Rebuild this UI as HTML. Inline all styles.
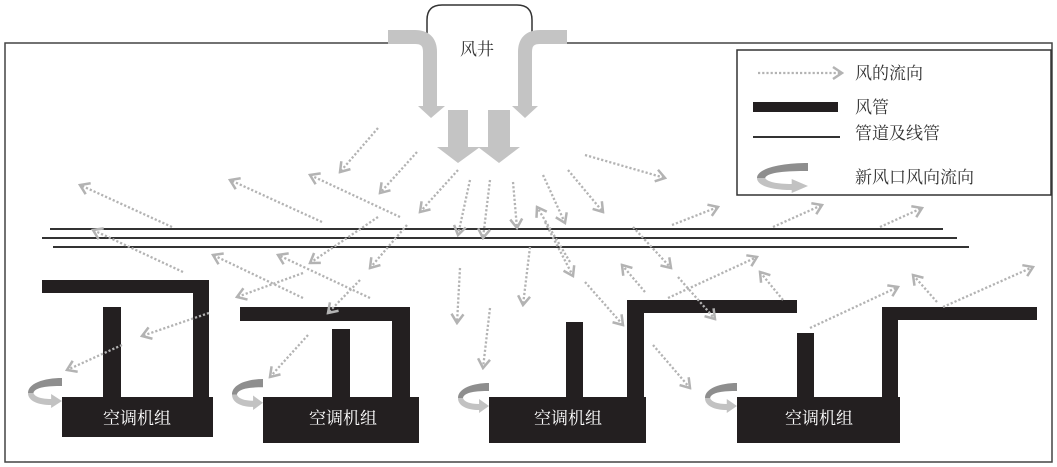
<!DOCTYPE html>
<html><head><meta charset="utf-8"><style>
html,body{margin:0;padding:0;background:#fff;}
svg{display:block;}
text{font-family:"Liberation Serif","Noto Serif CJK SC",serif;}
</style></head><body>
<svg width="1057" height="467" viewBox="0 0 1057 467" xmlns="http://www.w3.org/2000/svg">
<defs>
<marker id="ah" viewBox="-12 -8 14 16" refX="0" refY="0" markerWidth="14" markerHeight="16" orient="auto" markerUnits="userSpaceOnUse">
<path d="M-9,-6 L0,0 L-9,6" fill="none" stroke="#b3b3b3" stroke-width="2.5"/>
</marker>
<symbol id="fa" viewBox="0 0 50 30" preserveAspectRatio="none">
<path d="M50,0 L50,8 C30,8 10,9 8,15 L0,15 C0,5 25,0 50,0 Z" fill="#8e8e8e"/>
<path d="M0,15 L8,15 C10,19 20,21 34,21 L34,16 L50,23 L34,30 L34,27 C15,27 0,23 0,15 Z" fill="#c2c2c2"/>
</symbol>
</defs>
<rect width="1057" height="467" fill="#fff"/>

<path d="M427,43 L5,43 L5,462 L1052,462 L1052,43 L532,43" fill="none" stroke="#444" stroke-width="1.5"/>
<path d="M427,43 L427,20 Q427,5 442,5 L517,5 Q532,5 532,20 L532,43" fill="none" stroke="#333" stroke-width="1.5"/>

<g fill="#c4c4c4" stroke="none">
<path d="M388,37 L415,37 Q430,37 430,52 L430,107" fill="none" stroke="#c4c4c4" stroke-width="14"/>
<polygon points="418,106 445,106 431,118"/>
<path d="M567,37 L540,37 Q525,37 525,52 L525,107" fill="none" stroke="#c4c4c4" stroke-width="14"/>
<polygon points="512,106 538,106 525,118"/>
<rect x="448" y="110" width="20" height="38"/>
<polygon points="437,147 480,147 458,163"/>
<rect x="488" y="110" width="22" height="38"/>
<polygon points="478,147 520,147 499,163"/>
</g>
<text x="460" y="55" font-size="17" fill="#333">风井</text>

<g stroke="#333" stroke-width="2">
<line x1="50" y1="229" x2="943" y2="229"/>
<line x1="42" y1="238" x2="957" y2="238"/>
<line x1="53" y1="247" x2="969" y2="247"/>
</g>

<g fill="#231f20">
<rect x="42" y="280" width="167" height="13"/>
<rect x="193" y="280" width="16" height="118"/>
<rect x="103" y="307" width="18" height="91"/>
<rect x="62" y="397" width="151" height="40"/>
<rect x="240" y="307" width="170" height="14"/>
<rect x="392" y="307" width="18" height="91"/>
<rect x="332" y="329" width="18" height="69"/>
<rect x="263" y="397" width="156" height="46"/>
<rect x="627" y="300" width="170" height="13"/>
<rect x="627" y="300" width="17" height="98"/>
<rect x="566" y="322" width="17" height="76"/>
<rect x="489" y="397" width="157" height="46"/>
<rect x="882" y="307" width="155" height="13"/>
<rect x="882" y="307" width="16" height="91"/>
<rect x="797" y="333" width="17" height="65"/>
<rect x="737" y="397" width="163" height="46"/>
</g>
<g font-size="17" fill="#fff" text-anchor="middle">
<text x="137" y="424">空调机组</text>
<text x="343" y="424">空调机组</text>
<text x="568" y="424">空调机组</text>
<text x="819" y="424">空调机组</text>
</g>

<use href="#fa" x="28" y="378" width="34" height="30"/>
<use href="#fa" x="232" y="379" width="31" height="31"/>
<use href="#fa" x="458" y="383" width="31" height="30"/>
<use href="#fa" x="705" y="383" width="32" height="30"/>

<g stroke="#b3b3b3" stroke-width="2.3" stroke-dasharray="2.2 2" fill="none" marker-end="url(#ah)">
<line x1="378" y1="128" x2="340" y2="172"/>
<line x1="417" y1="152" x2="380" y2="193"/>
<line x1="458" y1="170" x2="420" y2="212"/>
<line x1="470" y1="180" x2="458" y2="235"/>
<line x1="490" y1="180" x2="483" y2="238"/>
<line x1="400" y1="217" x2="310" y2="175"/>
<line x1="322" y1="222" x2="230" y2="180"/>
<line x1="172" y1="227" x2="80" y2="185"/>
<line x1="183" y1="272" x2="93" y2="230"/>
<line x1="303" y1="298" x2="213" y2="255"/>
<line x1="370" y1="298" x2="278" y2="255"/>
<line x1="378" y1="217" x2="310" y2="263"/>
<line x1="407" y1="225" x2="370" y2="268"/>
<line x1="303" y1="273" x2="237" y2="297"/>
<line x1="360" y1="280" x2="328" y2="313"/>
<line x1="308" y1="335" x2="270" y2="377"/>
<line x1="209" y1="313" x2="142" y2="336"/>
<line x1="122" y1="345" x2="67" y2="370"/>
<line x1="460" y1="268" x2="457" y2="323"/>
<line x1="490" y1="308" x2="483" y2="368"/>
<line x1="530" y1="247" x2="523" y2="305"/>
<line x1="513" y1="182" x2="517" y2="228"/>
<line x1="543" y1="175" x2="565" y2="223"/>
<line x1="568" y1="170" x2="603" y2="212"/>
<line x1="585" y1="155" x2="665" y2="178"/>
<line x1="570" y1="262" x2="537" y2="207"/>
<line x1="545" y1="222" x2="573" y2="276"/>
<line x1="585" y1="282" x2="623" y2="325"/>
<line x1="645" y1="292" x2="622" y2="265"/>
<line x1="633" y1="227" x2="671" y2="268"/>
<line x1="678" y1="277" x2="715" y2="319"/>
<line x1="672" y1="225" x2="718" y2="207"/>
<line x1="668" y1="298" x2="757" y2="257"/>
<line x1="773" y1="227" x2="822" y2="205"/>
<line x1="880" y1="227" x2="922" y2="208"/>
<line x1="783" y1="300" x2="760" y2="272"/>
<line x1="810" y1="328" x2="898" y2="287"/>
<line x1="937" y1="302" x2="913" y2="275"/>
<line x1="943" y1="307" x2="1033" y2="267"/>
<line x1="653" y1="345" x2="690" y2="388"/>
</g>

<rect x="737" y="50" width="314" height="145" fill="#fff" stroke="#333" stroke-width="1.5"/>
<line x1="758" y1="73" x2="842" y2="73" stroke="#b3b3b3" stroke-width="2.3" stroke-dasharray="2.2 2" marker-end="url(#ah)"/>
<rect x="753" y="102" width="85" height="10" fill="#231f20"/>
<line x1="753" y1="137" x2="840" y2="137" stroke="#333" stroke-width="2"/>
<use href="#fa" x="757" y="163" width="51" height="30"/>
<g font-size="17" fill="#333">
<text x="855" y="79">风的流向</text>
<text x="855" y="113">风管</text>
<text x="855" y="139">管道及线管</text>
<text x="855" y="183">新风口风向流向</text>
</g>
</svg>
</body></html>
